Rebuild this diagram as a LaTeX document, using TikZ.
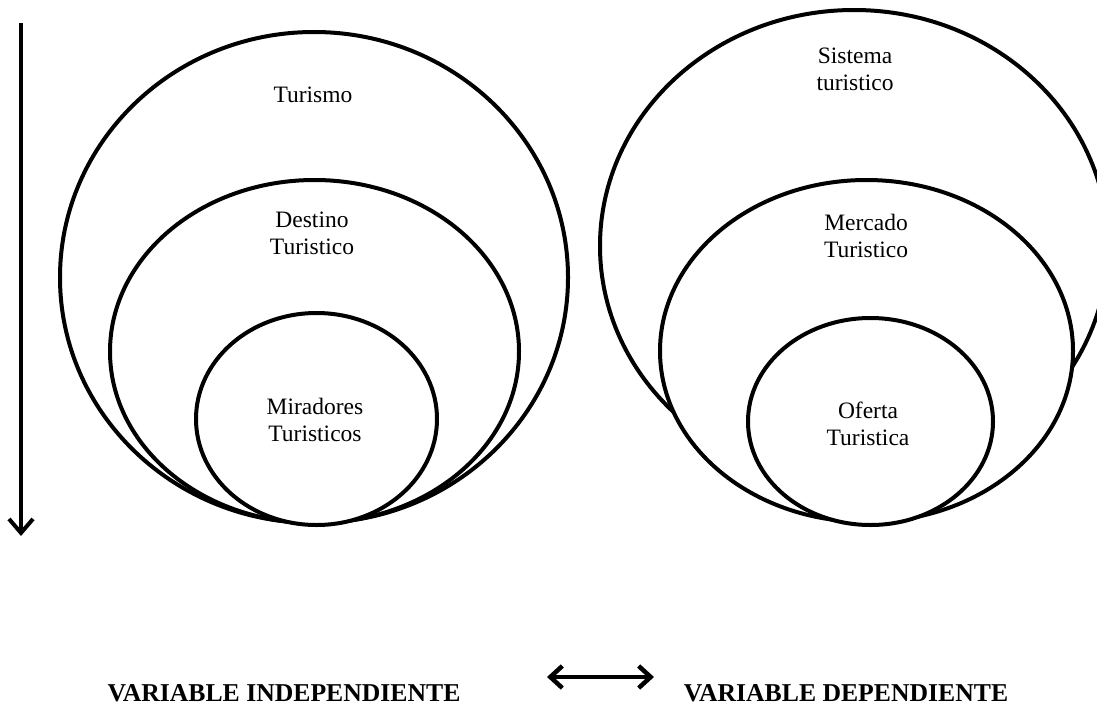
\documentclass[tikz,border=0pt]{standalone}
\usepackage{fontspec}
\setmainfont{Liberation Serif}
\usetikzlibrary{shapes.geometric,arrows.meta}
\tikzset{
  ring/.style={draw, fill=white, ellipse, line width=4pt, inner sep=0pt},
  lbl/.style={align=center, font=\fontsize{23.5}{27}\selectfont, inner sep=0pt},
  varlbl/.style={font=\fontsize{25.7}{30}\selectfont\bfseries, inner sep=0pt},
  barb/.style={line width=4pt, -{Straight Barb[length=14pt,width=24pt]}},
  dbarb/.style={line width=4.5pt, {Straight Barb[length=12pt,width=22pt]}-{Straight Barb[length=12pt,width=22pt]}}
}
\begin{document}
\begin{tikzpicture}[x=1pt,y=-1pt]
\clip (0,0) rectangle (1097,709);
\fill[white] (0,0) rectangle (1097,709);
% left set
\node[ring, minimum width=508pt, minimum height=491pt] (bigL) at (314,277.5) {};
\node[ring, minimum width=409pt, minimum height=343pt] (midL) at (314.5,351.5) {};
\node[ring, minimum width=241pt, minimum height=212pt] (smlL) at (316.5,419) {};
% right set
\node[ring, minimum width=508pt, minimum height=472pt] (bigR) at (854,246) {};
\node[ring, minimum width=413pt, minimum height=342pt] (midR) at (866.5,351) {};
\node[ring, minimum width=245pt, minimum height=207pt] (smlR) at (870.5,421.5) {};
% labels
\node[lbl] (t1) at (313,95) {Turismo};
\node[lbl] (t2) at (312,233.5) {Destino\\Turistico};
\node[lbl] (t3) at (315,420) {Miradores\\Turisticos};
\node[lbl] (t4) at (855,69.5) {Sistema\\turistico};
\node[lbl] (t5) at (866,235.5) {Mercado\\Turistico};
\node[lbl] (t6) at (868,423.5) {Oferta\\Turistica};
\node[varlbl] (vi) at (284,693) {VARIABLE INDEPENDIENTE};
\node[varlbl] (vd) at (846,693) {VARIABLE DEPENDIENTE};
% arrows
\coordinate (a1) at (21,23);
\coordinate (a2) at (21,536);
\draw[barb] (a1) -- (a2);
\coordinate (b1) at (547,677);
\coordinate (b2) at (654,677);
\draw[dbarb] (b1) -- (b2);
\end{tikzpicture}
\end{document}
